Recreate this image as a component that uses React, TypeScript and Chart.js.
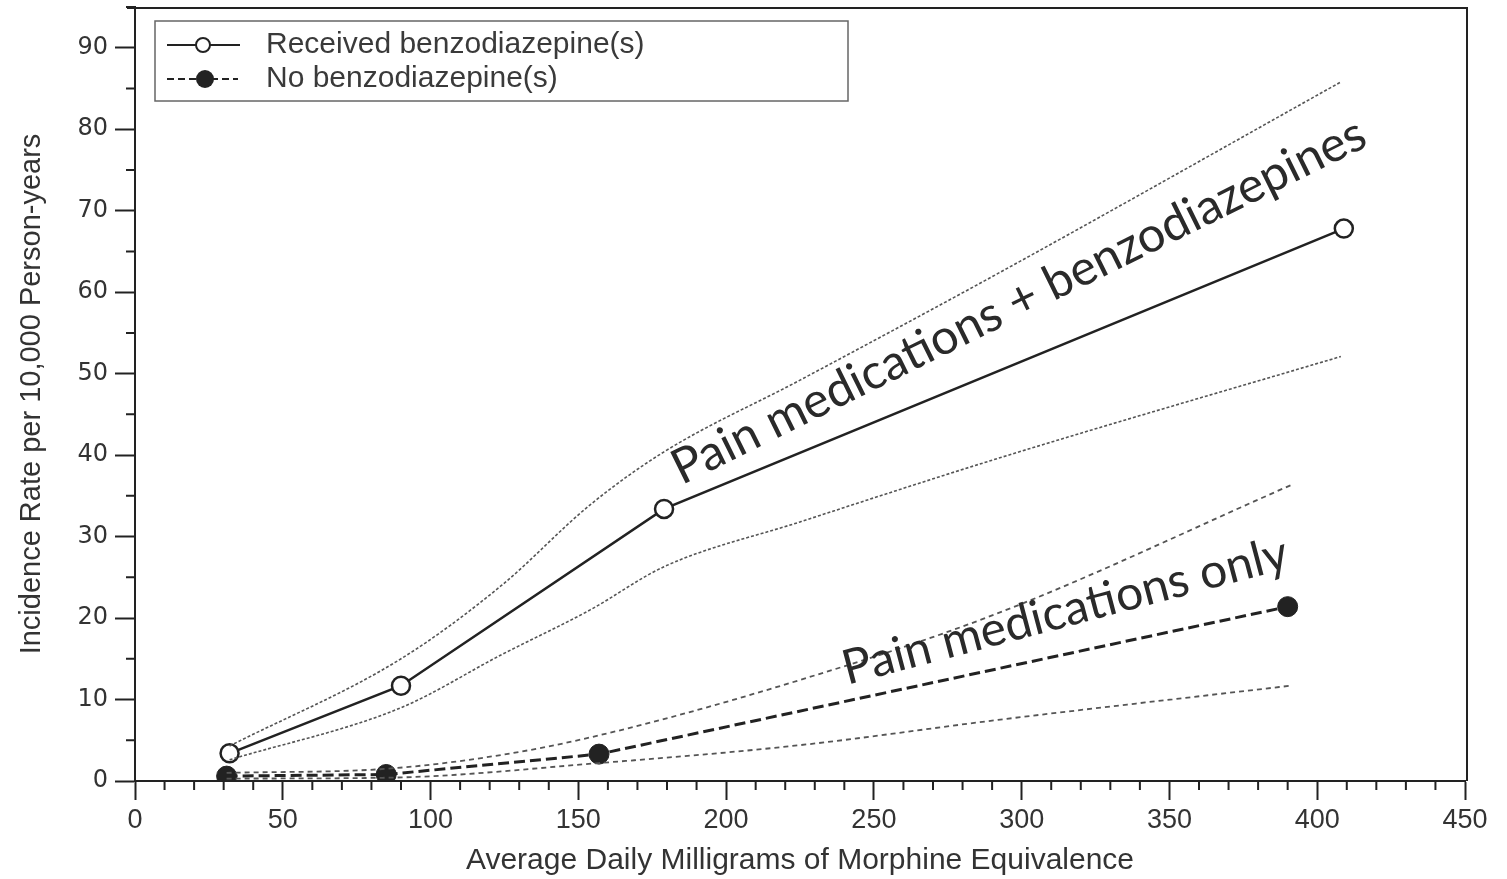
import React, { useEffect, useRef } from "react";
import { Chart, registerables } from "chart.js";

Chart.register(...registerables);

// Received benzodiazepine(s): estimate and 95% CI band
const recvX = [32, 90, 179, 409];
const recvY = [3.4, 11.7, 33.4, 67.8];
const recvUpperX = [32, 90, 124, 154, 179, 225, 292, 408];
const recvUpperY = [4.3, 15.0, 24.0, 33.9, 40.4, 49.2, 62.3, 85.8];
const recvLowerX = [32, 90, 124, 154, 179, 225, 292, 408];
const recvLowerY = [2.6, 9.0, 15.5, 21.0, 26.3, 31.8, 39.6, 52.1];

// No benzodiazepine(s): estimate and 95% CI band
const noX = [31, 85, 157, 390];
const noY = [0.6, 0.8, 3.3, 21.4];
const noUpperX = [31, 85, 124, 157, 225, 292, 391];
const noUpperY = [1.0, 1.5, 3.2, 5.6, 12.4, 20.6, 36.3];
const noLowerX = [31, 85, 157, 225, 292, 391];
const noLowerY = [0.3, 0.4, 2.2, 4.4, 7.5, 11.7];

const legendLabels = ["Received benzodiazepine(s)", "No benzodiazepine(s)"];
const xTitle = "Average Daily Milligrams of Morphine Equivalence";
const yTitle = "Incidence Rate per 10,000 Person-years";

const annotationTexts = ["Pain medications + benzodiazepines", "Pain medications only"];
// anchors (data coordinates) of the start and end of each annotation baseline
const annotationAnchors = [
  [185, 36.3, 418, 78.1],
  [241, 11.8, 391, 26.2],
];

const pts = (xs: number[], ys: number[]) => xs.map((x, i) => ({ x, y: ys[i] }));

const INK = "#222";
const GRAY = "#555";

const decorPlugin = {
  id: "decor",
  afterDraw(chart: any) {
    const { ctx, chartArea: a, scales } = chart;
    const x = scales.x;
    const y = scales.y;
    ctx.save();
    // frame top & right
    ctx.strokeStyle = INK;
    ctx.lineWidth = 2;
    ctx.beginPath();
    ctx.moveTo(a.left - 8, a.top + 1);
    ctx.lineTo(a.right + 2, a.top + 1);
    ctx.lineTo(a.right + 2, a.bottom);
    ctx.stroke();
    // minor ticks
    ctx.lineWidth = 2;
    ctx.beginPath();
    for (let v = 5; v <= 95; v += 10) {
      const py = y.getPixelForValue(v);
      ctx.moveTo(a.left - 9, py);
      ctx.lineTo(a.left, py);
    }
    for (let v = 10; v < 450; v += 10) {
      if (v % 50 === 0) continue;
      const px = x.getPixelForValue(v);
      ctx.moveTo(px, a.bottom);
      ctx.lineTo(px, a.bottom + 9);
    }
    ctx.stroke();

    // legend box
    const lx = a.left + 20;
    const ly = a.top + 14;
    ctx.strokeStyle = "#666";
    ctx.lineWidth = 1.5;
    ctx.setLineDash([]);
    ctx.strokeRect(lx, ly, 693, 80);
    const rows = [ly + 24, ly + 58];
    // row 1: solid line with open circle
    ctx.strokeStyle = INK;
    ctx.lineWidth = 2;
    ctx.beginPath();
    ctx.moveTo(lx + 12, rows[0]);
    ctx.lineTo(lx + 85, rows[0]);
    ctx.stroke();
    ctx.beginPath();
    ctx.arc(lx + 48, rows[0], 7, 0, Math.PI * 2);
    ctx.fillStyle = "#fff";
    ctx.fill();
    ctx.stroke();
    // row 2: dashed with filled circle
    ctx.setLineDash([7, 4]);
    ctx.beginPath();
    ctx.moveTo(lx + 12, rows[1]);
    ctx.lineTo(lx + 83, rows[1]);
    ctx.stroke();
    ctx.setLineDash([]);
    ctx.beginPath();
    ctx.arc(lx + 50, rows[1], 9, 0, Math.PI * 2);
    ctx.fillStyle = INK;
    ctx.fill();
    // legend text
    ctx.fillStyle = "#3a3a3a";
    ctx.font = "30px 'Liberation Sans', Arial, sans-serif";
    ctx.textBaseline = "middle";
    ctx.textAlign = "left";
    ctx.fillText(legendLabels[0], lx + 111, rows[0]);
    ctx.fillText(legendLabels[1], lx + 111, rows[1]);

    // annotations
    ctx.fillStyle = "#2a2a2a";
    ctx.textBaseline = "alphabetic";
    annotationTexts.forEach((t, i) => {
      const [x0, y0, x1, y1] = annotationAnchors[i];
      const p0x = x.getPixelForValue(x0);
      const p0y = y.getPixelForValue(y0);
      const p1x = x.getPixelForValue(x1);
      const p1y = y.getPixelForValue(y1);
      const len = Math.hypot(p1x - p0x, p1y - p0y);
      const ang = Math.atan2(p1y - p0y, p1x - p0x);
      ctx.font = "48px Lato, 'Open Sans', sans-serif";
      const w = ctx.measureText(t).width;
      const size = (48 * len) / w;
      ctx.font = `${size.toFixed(1)}px Lato, 'Open Sans', sans-serif`;
      ctx.save();
      ctx.translate(p0x, p0y);
      ctx.rotate(ang);
      ctx.fillText(t, 0, 0);
      ctx.restore();
    });
    ctx.restore();
  },
};

export default function App() {
  const ref = useRef<HTMLCanvasElement>(null);
  useEffect(() => {
    if (!ref.current) return;
    const ciRecv = {
      borderColor: GRAY,
      borderWidth: 1.6,
      borderDash: [3, 2],
      pointRadius: 0,
      cubicInterpolationMode: "monotone",
      fill: false,
    };
    const ciNo = {
      borderColor: GRAY,
      borderWidth: 1.8,
      borderDash: [5, 4],
      pointRadius: 0,
      cubicInterpolationMode: "monotone",
      fill: false,
    };
    const chart = new Chart(ref.current, {
      type: "line",
      data: {
        datasets: [
          { label: "recv upper", data: pts(recvUpperX, recvUpperY), ...ciRecv } as any,
          { label: "recv lower", data: pts(recvLowerX, recvLowerY), ...ciRecv } as any,
          { label: "no upper", data: pts(noUpperX, noUpperY), ...ciNo } as any,
          { label: "no lower", data: pts(noLowerX, noLowerY), ...ciNo } as any,
          {
            label: legendLabels[1],
            data: pts(noX, noY),
            borderColor: INK,
            borderWidth: 3,
            borderDash: [11, 5],
            pointRadius: 10,
            pointBackgroundColor: INK,
            pointBorderColor: INK,
            pointBorderWidth: 1,
          },
          {
            label: legendLabels[0],
            data: pts(recvX, recvY),
            borderColor: INK,
            borderWidth: 2.5,
            pointRadius: 9,
            pointBackgroundColor: "#fff",
            pointBorderColor: INK,
            pointBorderWidth: 2.5,
          },
        ],
      },
      options: {
        animation: false,
        responsive: true,
        maintainAspectRatio: false,
        layout: { autoPadding: false, padding: { left: 0, top: 7, right: 42, bottom: 0 } },
        plugins: { legend: { display: false }, tooltip: { enabled: false } },
        scales: {
          x: {
            type: "linear",
            min: 0,
            max: 450,
            afterFit: (s: any) => {
              s.height = 98;
              s.paddingLeft = 0;
              s.paddingRight = 0;
            },
            ticks: {
              stepSize: 50,
              color: "#333",
              padding: 4,
              font: { family: "'Liberation Sans Narrow', 'Liberation Sans', sans-serif", size: 27 },
              maxRotation: 0,
            },
            grid: { drawOnChartArea: false, drawTicks: true, tickLength: 19, tickColor: INK, tickWidth: 2 },
            border: { display: true, color: INK, width: 2 },
            title: {
              display: true,
              text: xTitle,
              color: "#333",
              font: { family: "'Liberation Sans', Arial, sans-serif", size: 30 },
              padding: { top: 0, bottom: 0 },
            },
          },
          y: {
            type: "linear",
            min: 0,
            max: 95,
            afterFit: (s: any) => {
              s.width = 135;
              s.paddingTop = 0;
              s.paddingBottom = 0;
            },
            afterBuildTicks: (s: any) => {
              s.ticks = s.ticks.filter((t: any) => t.value % 10 === 0);
            },
            ticks: {
              stepSize: 10,
              color: "#333",
              padding: 7,
              font: { family: "'DejaVu Sans', sans-serif", size: 24 },
            },
            grid: { drawOnChartArea: false, drawTicks: true, tickLength: 20, tickColor: INK, tickWidth: 2 },
            border: { display: true, color: INK, width: 2 },
            title: {
              display: true,
              text: yTitle,
              color: "#333",
              font: { family: "'Liberation Sans', Arial, sans-serif", size: 29 },
              padding: { top: 15, bottom: 0 },
            },
          },
        },
      } as any,
      plugins: [decorPlugin],
    });
    return () => chart.destroy();
  }, []);
  return (
    <div style={{ position: "absolute", left: 0, top: 0, width: 1507, height: 879, background: "#fff" }}>
      <canvas ref={ref} />
    </div>
  );
}
